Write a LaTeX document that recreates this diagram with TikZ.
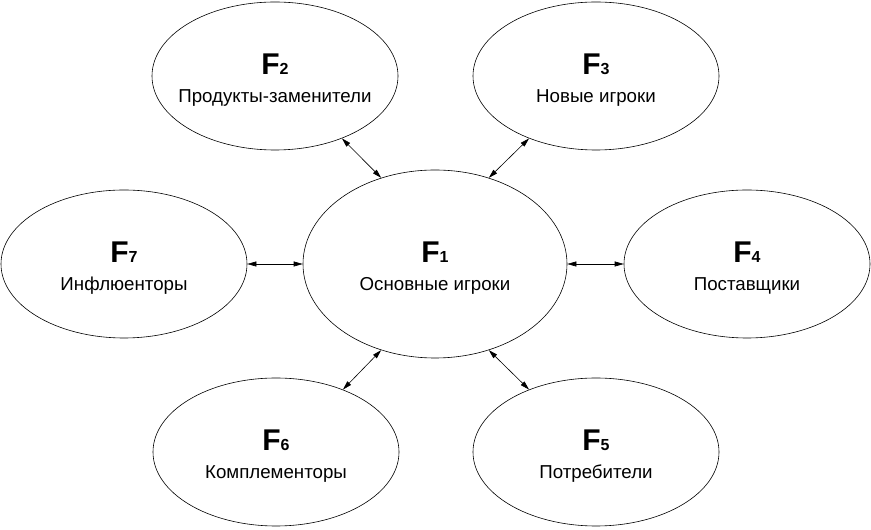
\documentclass[tikz,border=0pt]{standalone}
\usepackage{fontspec}
\setmainfont{Liberation Sans}
\usepackage{tikz}
\usetikzlibrary{shapes.geometric, arrows.meta}
\tikzset{link/.style = {line width=.6pt,<->,>={Triangle[length=9pt,width=5pt]}}}
\tikzset{factor/.style = {ellipse,draw,line width=.6pt,inner sep=0pt,minimum width=246pt,minimum height=148pt}}
\tikzset{every label/.style = {align=center,yshift=-4pt,font=\fontsize{18.7}{27.5}\selectfont}}
\newcommand{\Fn}[1]{{\fontsize{30}{30}\selectfont\bfseries F\fontsize{16}{16}\selectfont #1}}

\begin{document}
\begin{tikzpicture}[x=1pt,y=1pt]
\useasboundingbox (0,0) rectangle (871,530);

\node[factor,minimum width=264pt,minimum height=188pt,label={center:\Fn{1}\\Основные игроки}] (f1) at (435,266) {};
\node[factor,label={center:\Fn{2}\\Продукты-заменители}] (f2) at (275,454) {};
\node[factor,label={center:\Fn{3}\\Новые игроки}] (f3) at (596,454) {};
\node[factor,label={center:\Fn{4}\\Поставщики}] (f4) at (747,266) {};
\node[factor,label={center:\Fn{5}\\Потребители}] (f5) at (596,78) {};
\node[factor,label={center:\Fn{6}\\Комплементоры}] (f6) at (276,78) {};
\node[factor,label={center:\Fn{7}\\Инфлюенторы}] (f7) at (124,266) {};

\draw[link] (f7) -- (f1);
\draw[link] (f1) -- (f4);
\draw[link] (f2.-43) -- (f1.122);
\draw[link] (f3.-137) -- (f1.58);
\draw[link] (f6.43) -- (f1.238);
\draw[link] (f5.137) -- (f1.302);
\end{tikzpicture}
\end{document}
